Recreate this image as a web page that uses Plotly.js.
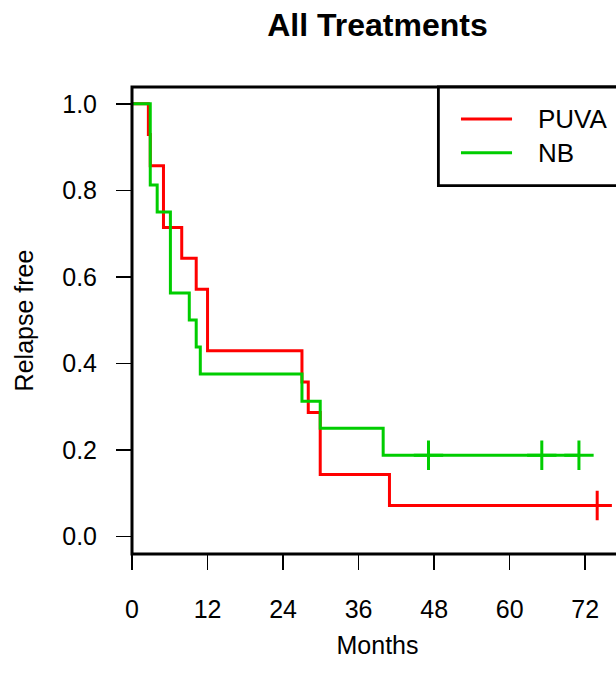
<!DOCTYPE html>
<html>
<head>
<meta charset="utf-8">
<script src="https://cdn.plot.ly/plotly-3.0.1.min.js"></script>
<style>
  html, body { margin: 0; padding: 0; overflow: hidden; background: #fff; }
  #chart { width: 640px; height: 686px; }
</style>
</head>
<body>
<div id="chart"></div>
<script>
// Kaplan-Meier estimates
const puvaTimes = [0, 2.6, 2.9, 5.0, 7.9, 10.2, 12.0, 27.0, 28.0, 29.9, 40.9, 73.9];
const puvaSurv  = [1, 0.929, 0.857, 0.714, 0.643, 0.571, 0.429, 0.357, 0.286, 0.143, 0.071, 0.071];
const puvaCensorTimes = [73.9];
const puvaCensorSurv  = [0.071];

const nbTimes = [0, 2.9, 4.0, 6.1, 9.1, 10.2, 10.85, 27.0, 29.9, 39.9, 71.0];
const nbSurv  = [1, 0.8125, 0.75, 0.5625, 0.5, 0.4375, 0.375, 0.3125, 0.25, 0.1875, 0.1875];
const nbCensorTimes = [47.1, 65.1, 71.0];
const nbCensorSurv  = [0.1875, 0.1875, 0.1875];

const xTicks = [0, 12, 24, 36, 48, 60, 72];
const yTicks = [0, 0.2, 0.4, 0.6, 0.8, 1.0];
const seriesNames = ['PUVA', 'NB'];
const seriesColors = ['#ff0000', '#00cd00'];

const FONT = 'Liberation Sans, Arial, sans-serif';
const LW = 3;

const traces = [
  { x: puvaTimes, y: puvaSurv, mode: 'lines', line: { shape: 'hv', color: seriesColors[0], width: LW },
    name: seriesNames[0], showlegend: false, hoverinfo: 'skip' },
  { x: puvaCensorTimes, y: puvaCensorSurv, mode: 'markers',
    marker: { symbol: 'cross-thin', size: 21, color: seriesColors[0], line: { color: seriesColors[0], width: LW } },
    showlegend: false, hoverinfo: 'skip' },
  { x: nbTimes, y: nbSurv, mode: 'lines', line: { shape: 'hv', color: seriesColors[1], width: LW },
    name: seriesNames[1], showlegend: false, hoverinfo: 'skip' },
  { x: nbCensorTimes, y: nbCensorSurv, mode: 'markers',
    marker: { symbol: 'cross-thin', size: 21, color: seriesColors[1], line: { color: seriesColors[1], width: LW } },
    showlegend: false, hoverinfo: 'skip' }
];

// legend geometry in paper coordinates
const legLineX = [0.670, 0.774];
const legTextX = 0.822;
const legRowsY = [0.9315, 0.8593];

const shapes = [
  { type: 'rect', xref: 'paper', yref: 'paper', x0: 0, x1: 1, y0: 0, y1: 1,
    line: { color: '#000', width: 3 }, fillcolor: 'rgba(0,0,0,0)', layer: 'above' },
  { type: 'rect', xref: 'paper', yref: 'paper', x0: 0.624, x1: 1.0, y0: 0.7887, y1: 1,
    line: { color: '#000', width: 2.8 }, fillcolor: '#fff', layer: 'above' }
];
const annotations = [];
seriesNames.forEach((nm, i) => {
  shapes.push({ type: 'line', xref: 'paper', yref: 'paper', x0: legLineX[0], x1: legLineX[1],
    y0: legRowsY[i], y1: legRowsY[i], line: { color: seriesColors[i], width: LW }, layer: 'above' });
  annotations.push({ xref: 'paper', yref: 'paper', x: legTextX, y: legRowsY[i], xanchor: 'left', yanchor: 'middle',
    text: nm, showarrow: false, font: { family: FONT, size: 26, color: '#000' } });
});

const layout = {
  width: 640, height: 686,
  margin: { l: 132, r: 17, t: 87, b: 132 },
  paper_bgcolor: '#fff', plot_bgcolor: '#fff',
  showlegend: false,
  title: { text: '<b>All Treatments</b>', font: { family: FONT, size: 32, color: '#000' },
    x: 0.5, xref: 'paper', y: 1 - 25 / 686, yref: 'container', yanchor: 'middle' },
  xaxis: {
    range: [0, 78], tickvals: xTicks, ticktext: xTicks.map(String),
    ticks: 'outside', ticklen: 15, tickwidth: 1.5, tickcolor: '#000',
    showgrid: false, zeroline: false, showline: false, automargin: false,
    ticklabelstandoff: 18,
    tickfont: { family: FONT, size: 25, color: '#000' },
    title: { text: 'Months', font: { family: FONT, size: 25, color: '#000' }, standoff: 14 }
  },
  yaxis: {
    range: [-0.041, 1.039], tickvals: yTicks, ticktext: yTicks.map(v => v.toFixed(1)),
    ticks: 'outside', ticklen: 15, tickwidth: 1.5, tickcolor: '#000',
    showgrid: false, zeroline: false, showline: false, automargin: false,
    ticklabelstandoff: 14,
    tickfont: { family: FONT, size: 25, color: '#000' },
    title: { text: 'Relapse free', font: { family: FONT, size: 25, color: '#000' }, standoff: 21 }
  },
  shapes: shapes,
  annotations: annotations
};

Plotly.newPlot('chart', traces, layout, { staticPlot: true, displayModeBar: false });
</script>
</body>
</html>
